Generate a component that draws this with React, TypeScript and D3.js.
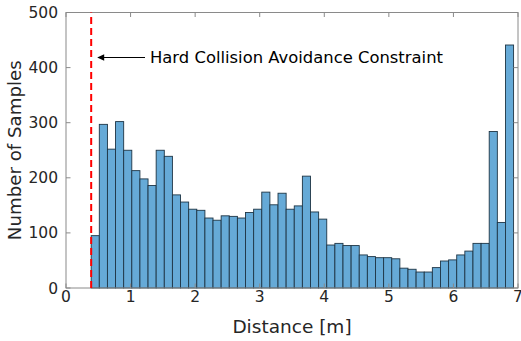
import React from "react";
import * as d3 from "d3";

// Histogram of minimum distances (counts per bin)
const counts: number[] = [
  95, 297, 252, 302, 250, 213, 198, 186, 250, 239,
  169, 156, 143, 141, 127, 123, 131, 130, 127, 137,
  143, 174, 151, 172, 143, 149, 203, 138, 125, 78,
  81, 77, 77, 60, 57, 55, 55, 53, 36, 34,
  29, 29, 37, 49, 51, 60, 67, 81, 81, 284,
  119, 441,
];
const binStart = 0.39;
const binWidth = 0.1258;
const constraintDistance = 0.39;

const xTicks = [0, 1, 2, 3, 4, 5, 6, 7];
const yTicks = [0, 100, 200, 300, 400, 500];
const xLabel = "Distance [m]";
const yLabel = "Number of Samples";
const annotation = "Hard Collision Avoidance Constraint";

const W = 521;
const H = 341;
const M = { left: 66, right: 3, top: 12.5, bottom: 53 };

export default function App() {
  const x = d3.scaleLinear().domain([0, 7]).range([M.left, W - M.right]);
  const y = d3.scaleLinear().domain([0, 500]).range([H - M.bottom, M.top]);
  const bins = counts.map((c, i) => ({
    x0: binStart + i * binWidth,
    x1: binStart + (i + 1) * binWidth,
    c,
  }));
  const axisColor = "#262626";
  const font = "DejaVu Sans, sans-serif";
  const x0 = x(0), x1 = x(7), y0 = y(0), y1 = y(500);
  const tickLen = 4.5;
  const arrowY = 57.5;

  return (
    <svg
      width={W}
      height={H}
      style={{ position: "absolute", left: 0, top: 0 }}
      fontFamily={font}
    >
      <rect width={W} height={H} fill="#fff" />
      {bins.map((b, i) => (
        <rect
          key={i}
          x={x(b.x0)}
          y={y(b.c)}
          width={x(b.x1) - x(b.x0)}
          height={y(0) - y(b.c)}
          fill="#66AAD7"
          stroke="#1e3545"
          strokeWidth={0.9}
        />
      ))}
      {/* frame */}
      <rect
        x={x0}
        y={y1}
        width={x1 - x0}
        height={y0 - y1}
        fill="none"
        stroke="#8a8a8a"
        strokeWidth={1}
      />
      {xTicks.map((t) => (
        <g key={"x" + t}>
          <line x1={x(t)} x2={x(t)} y1={y0} y2={y0 - tickLen} stroke="#8a8a8a" />
          <line x1={x(t)} x2={x(t)} y1={y1} y2={y1 + tickLen} stroke="#8a8a8a" />
          <text
            x={x(t)}
            y={y0 + 13.5}
            textAnchor="middle"
            fontSize={15.5}
            fill={axisColor}
          >
            {t}
          </text>
        </g>
      ))}
      {yTicks.map((t) => (
        <g key={"y" + t}>
          <line x1={x0} x2={x0 + tickLen} y1={y(t)} y2={y(t)} stroke="#8a8a8a" />
          <line x1={x1} x2={x1 - tickLen} y1={y(t)} y2={y(t)} stroke="#8a8a8a" />
          <text
            x={x0 - 8}
            y={y(t) + 5.5}
            textAnchor="end"
            fontSize={15.5}
            fill={axisColor}
          >
            {t}
          </text>
        </g>
      ))}
      {/* constraint line */}
      <line
        x1={x(constraintDistance)}
        x2={x(constraintDistance)}
        y1={y0}
        y2={y1}
        stroke="#ff0000"
        strokeWidth={2}
        strokeDasharray="7,4"
      />
      {/* annotation arrow */}
      <line
        x1={145}
        x2={103}
        y1={arrowY}
        y2={arrowY}
        stroke="#000"
        strokeWidth={1.2}
      />
      <path
        d={`M${x(constraintDistance) + 6},${arrowY} l7,-3.2 l0,6.4 z`}
        fill="#000"
      />
      <text x={150} y={63} fontSize={16.4} fill="#000">
        {annotation}
      </text>
      <text
        x={(x0 + x1) / 2}
        y={333}
        textAnchor="middle"
        fontSize={18.5}
        fill={axisColor}
      >
        {xLabel}
      </text>
      <text
        transform={`translate(21,${(y0 + y1) / 2}) rotate(-90)`}
        textAnchor="middle"
        fontSize={18.2}
        fill={axisColor}
      >
        {yLabel}
      </text>
    </svg>
  );
}
